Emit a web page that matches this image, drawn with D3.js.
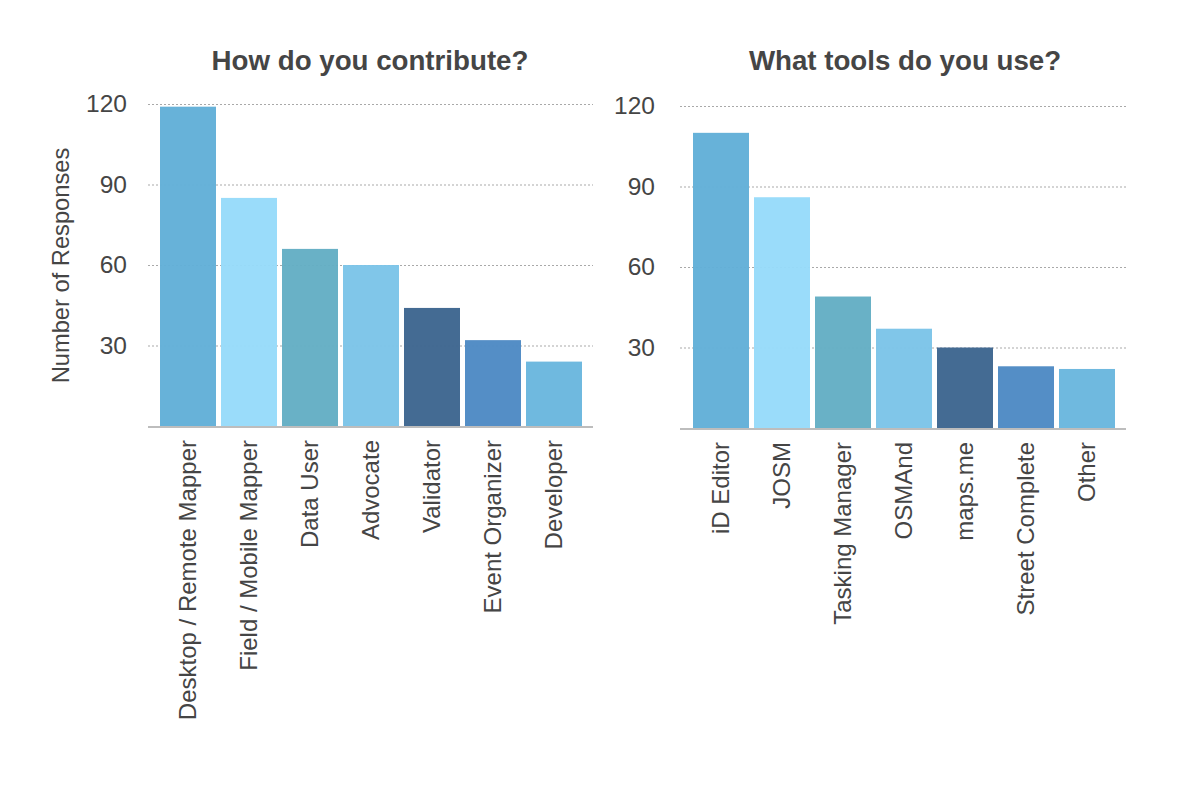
<!DOCTYPE html>
<html>
<head>
<meta charset="utf-8">
<script src="https://cdn.jsdelivr.net/npm/d3@7"></script>
<style>
  html, body { margin: 0; padding: 0; background: #fff; }
  svg { display: block; }
  text { font-family: "Liberation Sans", Arial, Helvetica, sans-serif; }
</style>
</head>
<body>
<svg id="chart" width="1194" height="794"></svg>
<script>
// ---- Data ----
const contributeCategories = ["Desktop / Remote Mapper", "Field / Mobile Mapper", "Data User", "Advocate", "Validator", "Event Organizer", "Developer"];
const contributeValues = [119, 85, 66, 60, 44, 32, 24];

const toolCategories = ["iD Editor", "JOSM", "Tasking Manager", "OSMAnd", "maps.me", "Street Complete", "Other"];
const toolValues = [110, 86, 49, 37, 30, 23, 22];

const yTickValues = [30, 60, 90, 120];
const barColors = ["#62afd8", "#97dbfa", "#64aec4", "#7cc4e8", "#3e668f", "#4e8ac4", "#6ab7de"];

const titles = ["How do you contribute?", "What tools do you use?"];
const yAxisLabel = "Number of Responses";

// ---- Drawing ----
const svg = d3.select("#chart");

function drawPanel(cfg) {
  const g = svg.append("g");
  const data = cfg.categories.map((c, i) => ({ c, v: cfg.values[i], color: barColors[i % barColors.length] }));

  const y = d3.scaleLinear().domain([0, 120]).range([cfg.y0, cfg.y120]);
  const x = d3.scaleBand().domain(cfg.categories).range([cfg.barLeft, cfg.barRight]).paddingInner(5 / 61).paddingOuter(0);

  // gridlines
  const grid = g.append("g")
    .attr("transform", `translate(${cfg.gridLeft},0)`)
    .call(d3.axisLeft(y).tickValues(yTickValues).tickSize(-(cfg.gridRight - cfg.gridLeft)).tickFormat(""));
  grid.select(".domain").remove();
  grid.selectAll(".tick line")
    .attr("stroke", "#a9a9a9")
    .attr("stroke-width", 1)
    .attr("stroke-dasharray", "2,2");

  // bars
  g.append("g").selectAll("rect").data(data).join("rect")
    .attr("x", d => x(d.c))
    .attr("width", x.bandwidth())
    .attr("y", d => y(d.v))
    .attr("height", d => y(0) - y(d.v))
    .attr("fill", d => d.color)
    .attr("fill-opacity", 0.97);

  // baseline
  g.append("line")
    .attr("x1", cfg.gridLeft).attr("x2", cfg.gridRight)
    .attr("y1", y(0) + 1).attr("y2", y(0) + 1)
    .attr("stroke", "#bdbdbd").attr("stroke-width", 2);

  // y tick labels
  const yAxis = g.append("g")
    .attr("transform", `translate(${cfg.tickRight},0)`)
    .call(d3.axisLeft(y).tickValues(yTickValues).tickSize(0).tickPadding(0));
  yAxis.select(".domain").remove();
  yAxis.selectAll("text")
    .attr("font-size", 24.5)
    .attr("font-family", "'Liberation Sans', Arial, sans-serif")
    .attr("fill", "#454545");

  // x labels
  const xAxis = g.append("g")
    .attr("transform", `translate(0,${y(0) + 14})`)
    .call(d3.axisBottom(x).tickSize(0).tickPadding(0));
  xAxis.select(".domain").remove();
  xAxis.selectAll("text")
    .attr("transform", "rotate(-90)")
    .attr("text-anchor", "end")
    .attr("x", 0)
    .attr("y", 0)
    .attr("dy", "0.35em")
    .attr("font-size", 24)
    .attr("font-family", "'Liberation Sans', Arial, sans-serif")
    .attr("fill", "#454545");

  // title
  g.append("text")
    .attr("x", cfg.titleX).attr("y", 70)
    .attr("text-anchor", "middle")
    .attr("font-size", 27.7)
    .attr("font-weight", "bold")
    .attr("fill", "#454545")
    .text(cfg.title);

  return g;
}

drawPanel({
  categories: contributeCategories, values: contributeValues, title: titles[0],
  y0: 426, y120: 104, barLeft: 160, barRight: 582, gridLeft: 148, gridRight: 593,
  tickRight: 127, titleX: 370
});

drawPanel({
  categories: toolCategories, values: toolValues, title: titles[1],
  y0: 428, y120: 106, barLeft: 693, barRight: 1115, gridLeft: 680, gridRight: 1126,
  tickRight: 655, titleX: 905
});

// y-axis title
svg.append("text")
  .attr("transform", "translate(69,265.5) rotate(-90)")
  .attr("text-anchor", "middle")
  .attr("font-size", 23.7)
  .attr("fill", "#454545")
  .text(yAxisLabel);
</script>
</body>
</html>
